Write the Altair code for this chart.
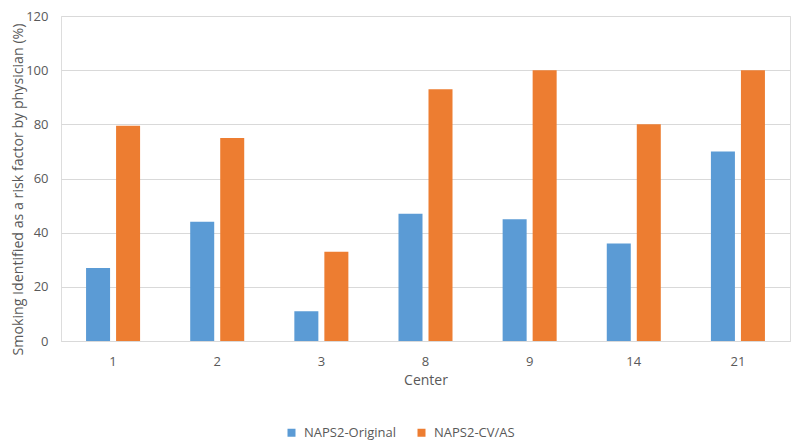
import altair as alt
import pandas as pd

centers = ["1", "2", "3", "8", "9", "14", "21"]
original = [27, 44, 11, 47, 45, 36, 70]
cvas = [79.5, 75, 33, 93, 100, 80, 100]
series = ["NAPS2-Original", "NAPS2-CV/AS"]
colors = ["#5B9BD5", "#ED7D31"]

rows = []
for c, a, b in zip(centers, original, cvas):
    rows.append({"Center": c, "Series": series[0], "Value": a})
    rows.append({"Center": c, "Series": series[1], "Value": b})
df = pd.DataFrame(rows)

FONT = "Open Sans"
TXT = "#595959"

chart = alt.Chart(df).mark_bar().encode(
    x=alt.X("Center:N", sort=centers,
            scale=alt.Scale(paddingInner=0, paddingOuter=0),
            axis=alt.Axis(title="Center", labelAngle=0, ticks=False, domain=True,
                          domainColor="#D9D9D9", labelPadding=14, titlePadding=5,
                          labelFontSize=13, titleFontSize=14, labelColor=TXT,
                          titleColor=TXT, titleFontWeight="normal", grid=False)),
    xOffset=alt.XOffset("Series:N", sort=series,
                        scale=alt.Scale(paddingInner=0.2, paddingOuter=0.835)),
    y=alt.Y("Value:Q", scale=alt.Scale(domain=[0, 120]),
            axis=alt.Axis(title="Smoking Identified as a risk factor by physician (%)",
                          values=[0, 20, 40, 60, 80, 100, 120], ticks=False, domain=False,
                          gridColor="#D9D9D9", labelPadding=13, titlePadding=0,
                          titleY=173,
                          labelFontSize=13, titleFontSize=14.2, labelColor=TXT,
                          titleColor=TXT, titleFontWeight="normal")),
    color=alt.Color("Series:N", sort=series,
                    scale=alt.Scale(domain=series, range=colors),
                    legend=alt.Legend(title=None, orient="none", direction="horizontal",
                                      legendX=224, legendY=410, symbolType="square",
                                      symbolSize=64, symbolStrokeWidth=0,
                                      labelFontSize=13, labelColor=TXT,
                                      labelOffset=6, columnPadding=18)),
).properties(
    width=729, height=325,
    autosize=alt.AutoSizeParams(type="none"),
    padding={"left": 53, "top": 8, "right": 2, "bottom": 99},
).configure_view(stroke=None).configure(font=FONT)

chart.save("out.html", embed_options={"renderer": "svg", "actions": False})
